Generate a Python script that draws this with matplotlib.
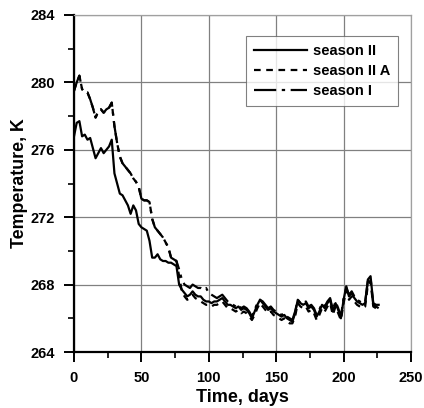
import matplotlib
matplotlib.use("Agg")
import matplotlib.pyplot as plt
from matplotlib.ticker import MultipleLocator

plt.rcParams['font.family'] = ['Liberation Sans', 'DejaVu Sans']
plt.rcParams['font.weight'] = 'bold'

days = list(range(0, 228, 2))

season_II = [276.8, 277.6, 277.7, 276.8, 276.9, 276.6, 276.7, 276.1, 275.5, 275.8,
             276.1, 275.8, 276.0, 276.2, 276.6, 274.6, 274.0, 273.4, 273.3, 273.0,
             272.7, 272.2, 272.7, 272.4, 271.6, 271.4, 271.3, 271.2, 270.6, 269.6,
             269.6, 269.8, 269.5, 269.4, 269.4, 269.3, 269.3, 269.2, 269.1, 268.0,
             267.7, 267.5, 267.3, 267.4, 267.6, 267.4, 267.3, 267.3, 267.1, 267.0,
             267.0, 266.9, 267.0, 267.0, 267.1, 267.2, 267.0, 266.8, 266.8, 266.7,
             266.6, 266.7, 266.5, 266.6, 266.5, 266.3, 266.0, 266.4, 266.8, 267.1,
             266.9, 266.7, 266.5, 266.6, 266.4, 266.3, 266.2, 266.1, 266.2, 266.0,
             265.9, 265.8, 266.3, 267.1, 266.9, 266.8, 266.9, 266.6, 266.7, 266.5,
             266.1, 266.4, 266.8, 266.6, 266.9, 267.1, 266.4, 266.9, 266.5, 266.0,
             267.1, 267.9, 267.3, 267.5, 267.2, 267.0, 266.9, 266.8, 266.9, 268.3,
             268.5, 266.9, 266.8, 266.8]

season_II_A = [279.5, 280.0, 280.4, 279.6, 279.4, 279.4, 279.0, 278.5, 277.9, 278.3,
               278.4, 278.2, 278.4, 278.5, 278.8, 277.4, 276.4, 275.6, 275.2, 275.0,
               274.8, 274.6, 274.3, 274.1, 273.8, 273.1, 273.0, 273.0, 272.9, 271.9,
               271.4, 271.2, 271.0, 270.8, 270.5, 270.2, 269.6, 269.5, 269.4, 268.5,
               267.6, 267.3, 267.1, 267.2, 267.4, 267.2, 267.1, 267.0, 266.9, 266.8,
               266.8, 266.7, 266.8, 266.8, 266.9, 267.0, 266.8, 266.6, 266.6, 266.5,
               266.4, 266.5, 266.3, 266.4, 266.3, 266.1, 265.9, 266.2, 266.6, 266.9,
               266.7, 266.5, 266.3, 266.4, 266.2, 266.1, 266.0, 265.9, 266.0, 265.8,
               265.7, 265.7, 266.1, 266.9, 266.7, 266.6, 266.7, 266.4, 266.5, 266.3,
               265.9, 266.2, 266.6, 266.4, 266.7, 266.9, 266.2, 266.7, 266.3, 265.9,
               266.9, 267.7, 267.1, 267.3, 267.0, 266.8, 266.7, 266.6, 266.7, 268.0,
               268.2, 266.7, 266.6, 266.5]

season_I = [279.5, 280.0, 280.4, 279.6, 279.4, 279.4, 279.0, 278.5, 277.9, 278.3,
            278.4, 278.2, 278.4, 278.5, 278.8, 277.4, 276.4, 275.6, 275.2, 275.0,
            274.8, 274.6, 274.3, 274.1, 273.8, 273.1, 273.0, 273.0, 272.9, 271.9,
            271.4, 271.2, 271.0, 270.8, 270.5, 270.2, 269.6, 269.5, 269.4, 268.9,
            268.3, 268.0, 267.9, 267.8, 268.0, 267.9, 267.8, 267.8, 267.7, 267.8,
            267.5, 267.4, 267.3, 267.2, 267.3, 267.4, 267.2, 267.0, 266.9, 266.8,
            266.7, 266.8, 266.6, 266.7, 266.6, 266.4, 266.1, 266.5, 266.9, 267.1,
            267.0, 266.8, 266.6, 266.7, 266.5, 266.4, 266.3, 266.2, 266.3, 266.1,
            266.0, 265.9, 266.4, 267.1, 266.9, 266.9, 267.0, 266.7, 266.8, 266.6,
            266.2, 266.5, 266.9, 266.7, 267.0, 267.2, 266.5, 267.0, 266.6, 266.1,
            267.2, 267.8, 267.4, 267.6, 267.3, 267.1, 267.0, 266.9, 267.0, 268.2,
            268.4, 266.8, 266.7, 266.6]

x_ticks = [0, 50, 100, 150, 200, 250]
y_ticks = [264, 268, 272, 276, 280, 284]

fig = plt.figure(figsize=(4.24, 4.08), dpi=100)
ax = fig.add_axes([74/424, 1 - 352/408, 337/424, 337/408])

ax.plot(days, season_II, color='black', lw=1.6, label='season II')
ax.plot(days, season_II_A, color='black', lw=1.6, dashes=(3, 2.5), label='season II A')
ax.plot(days, season_I, color='black', lw=1.6, dashes=(10, 2.5, 1.5, 2.5), label='season I')

ax.set_xlim(0, 250)
ax.set_ylim(264, 284)
ax.set_xticks(x_ticks)
ax.set_yticks(y_ticks)
ax.xaxis.set_minor_locator(MultipleLocator(25))
ax.yaxis.set_minor_locator(MultipleLocator(2))
ax.grid(True, which='major', color='#808080', lw=0.9)
ax.set_axisbelow(True)

for s in ['left', 'bottom']:
    ax.spines[s].set_linewidth(1.6)
    ax.spines[s].set_color('black')
for s in ['top', 'right']:
    ax.spines[s].set_linewidth(0.9)
    ax.spines[s].set_color('#a0a0a0')

ax.tick_params(which='major', direction='out', length=7.5, width=1.4, labelsize=10.5,
               top=False, right=False)
ax.tick_params(axis='x', which='major', pad=6.5)
ax.tick_params(axis='y', which='major', pad=6)
ax.tick_params(which='minor', direction='out', length=4.5, width=1.2, top=False, right=False)
for lab in ax.get_xticklabels() + ax.get_yticklabels():
    lab.set_fontweight('bold')

ax.set_xlabel('Time, days', fontsize=13, fontweight='bold', labelpad=2.5)
ax.set_ylabel('Temperature, K', fontsize=12.8, fontweight='bold', labelpad=2)

leg = ax.legend(loc='upper left', bbox_to_anchor=(246/424, 1 - 36/408),
                bbox_transform=fig.transFigure, borderaxespad=0, fontsize=10.5,
                handlelength=3.6, frameon=True, fancybox=False, borderpad=0.55,
                labelspacing=0.42, handletextpad=0.45)
leg.get_frame().set_edgecolor('#606060')
leg.get_frame().set_linewidth(0.8)
for t in leg.get_texts():
    t.set_fontweight('bold')

fig.savefig('out.png', dpi=100)
